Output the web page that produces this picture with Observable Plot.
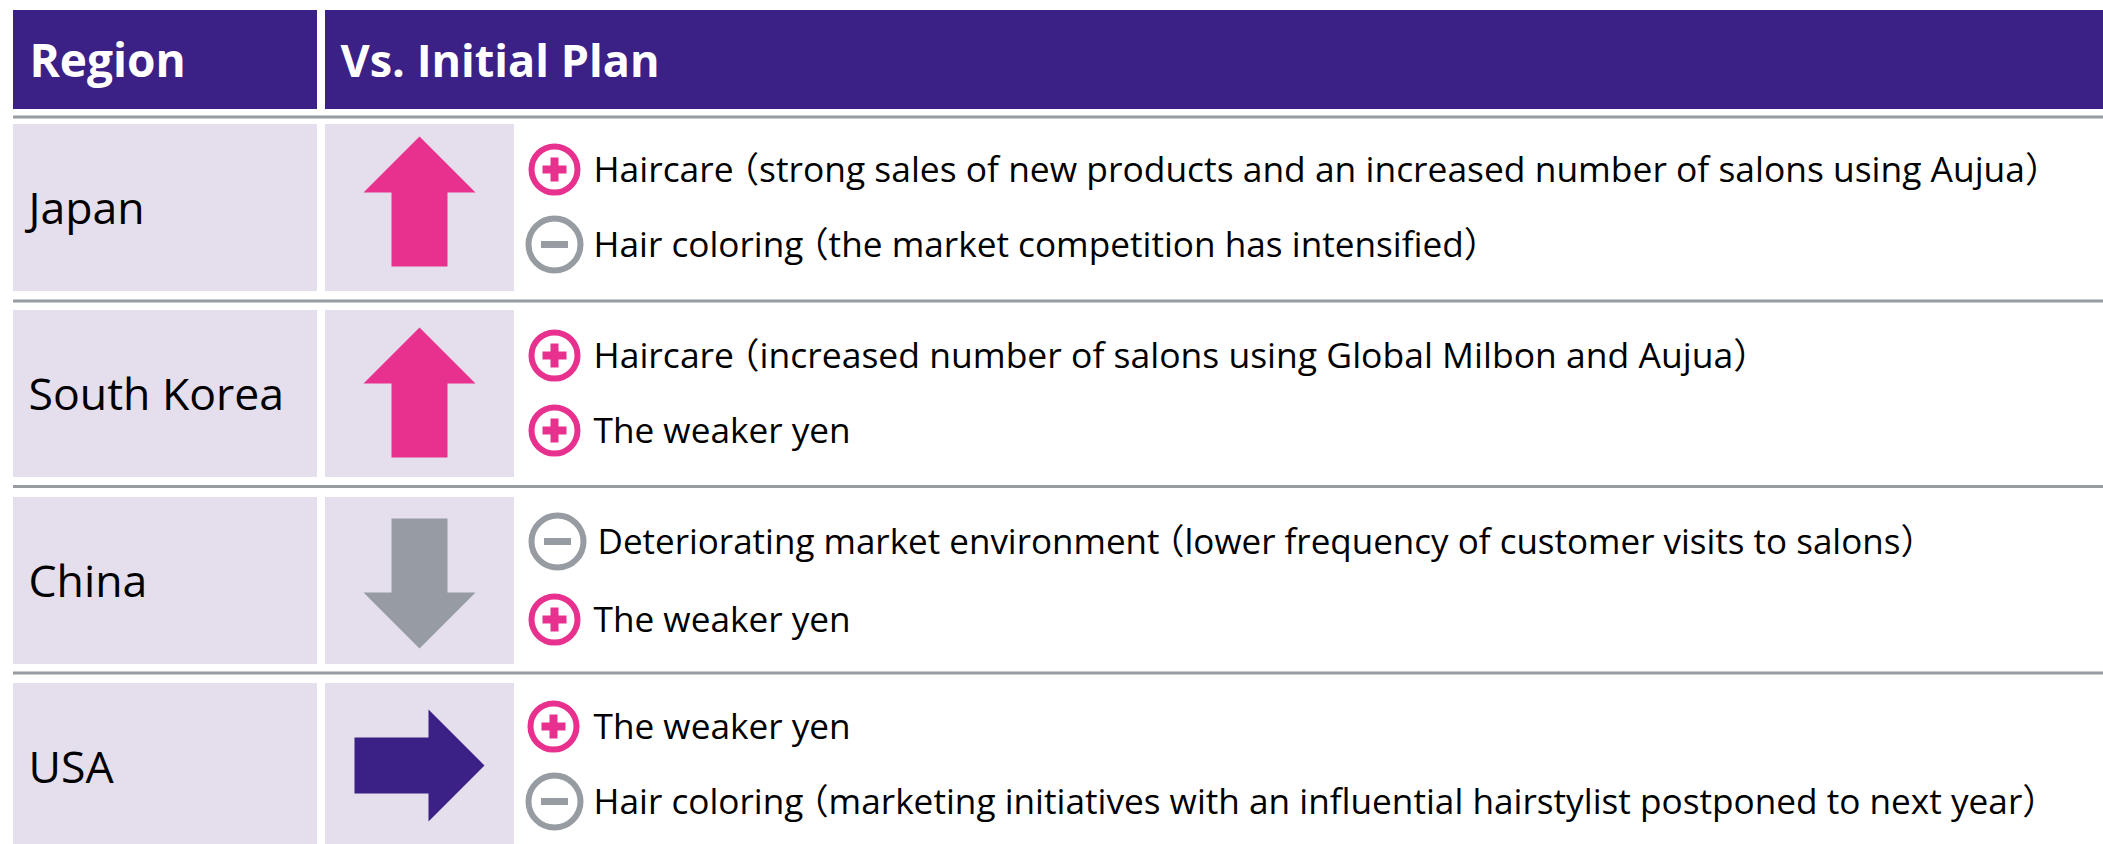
<!DOCTYPE html>
<html><head><meta charset="utf-8">
<script src="https://cdn.jsdelivr.net/npm/d3@7"></script>
<script src="https://cdn.jsdelivr.net/npm/@observablehq/plot@0.6"></script>
<style>html,body{margin:0;padding:0;background:#fff;overflow:hidden}svg{display:block}</style>
</head><body><div id="chart"></div>
<script>
const headers = ["Region", "Vs. Initial Plan"];
const regions = ["Japan", "South Korea", "China", "USA"];
const directions = ["up", "up", "down", "flat"];
const itemSigns = [["+", "-"], ["+", "+"], ["-", "+"], ["+", "-"]];
const itemTexts = [
  ["Haircare（strong sales of new products and an increased number of salons using Aujua）", "Hair coloring（the market competition has intensified）"],
  ["Haircare（increased number of salons using Global Milbon and Aujua）", "The weaker yen"],
  ["Deteriorating market environment（lower frequency of customer visits to salons）", "The weaker yen"],
  ["The weaker yen", "Hair coloring（marketing initiatives with an influential hairstylist postponed to next year）"]
];

// Layout (page pixels)
const W = 2103, H = 844;
const PURPLE = "#3b2086", PINK = "#e8308e", GREY = "#969ca1", CELL = "#e4deed";
const col1 = [13, 317], col2 = [325, 514], col2Head = [325, 2103];
const rowTop = [124, 310, 497, 683], rowH = 167;
const ruleYs = [116.5, 300.5, 486, 672.5];
const arrowMid = [201, 392, 583, 765];
const itemY = [[169, 244], [355, 430], [541, 619], [726, 801]];
const iconX = [[554, 554], [554, 554], [557, 554], [553, 554]];
const textX = [[593, 593], [593, 593], [597, 593], [593, 593]];
const itemFontSize = [[35.4, 35.2], [35.5, 35.2], [35, 35.2], [35.2, 35.2]];
const headFontSize = [46, 45];
const textFont = "'Open Sans','Noto Sans CJK JP',sans-serif";

const rows = regions.map((r, i) => ({region: r, dir: directions[i], top: rowTop[i], mid: rowTop[i] + rowH / 2 + 2, arrow: arrowMid[i]}));
const items = itemTexts.flatMap((t, i) => t.map((s, j) => ({text: s, sign: itemSigns[i][j], y: itemY[i][j], ix: iconX[i][j], tx: textX[i][j], fs: itemFontSize[i][j]})));
const plusItems = items.filter(d => d.sign === "+"), minusItems = items.filter(d => d.sign === "-");
const heads = [
  {t: headers[0], x1: col1[0], x2: col1[1], tx: 29, fs: headFontSize[0]},
  {t: headers[1], x1: col2Head[0], x2: col2Head[1], tx: 340, fs: headFontSize[1]}
];

const blockArrow = {
  draw(ctx, l) {
    const hw = l * 56 / 130, sw = l * 28 / 130, hl = l * 56 / 130;
    ctx.moveTo(0, -l); ctx.lineTo(hw, -l + hl); ctx.lineTo(sw, -l + hl); ctx.lineTo(sw, 0);
    ctx.lineTo(-sw, 0); ctx.lineTo(-sw, -l + hl); ctx.lineTo(-hw, -l + hl); ctx.closePath();
  }
};
const rot = {up: 0, down: 180, flat: 90};
const arrowFill = {up: PINK, down: GREY, flat: PURPLE};
const plusGlyph = {draw(c) {const a = 12, t = 4;
  c.moveTo(-t,-a);c.lineTo(t,-a);c.lineTo(t,-t);c.lineTo(a,-t);c.lineTo(a,t);c.lineTo(t,t);c.lineTo(t,a);c.lineTo(-t,a);c.lineTo(-t,t);c.lineTo(-a,t);c.lineTo(-a,-t);c.lineTo(-t,-t);c.closePath();}};
const minusGlyph = {draw(c) {const a = 13.5, t = 3.5;
  c.moveTo(-a,-t);c.lineTo(a,-t);c.lineTo(a,t);c.lineTo(-a,t);c.closePath();}};

const chart = Plot.plot({
  width: W, height: H,
  marginTop: 0, marginRight: 0, marginBottom: 0, marginLeft: 0,
  x: {type: "linear", domain: [0, W], range: [0, W], axis: null},
  y: {type: "linear", domain: [0, H], range: [0, H], axis: null},
  style: {background: "#fff"},
  marks: [
    Plot.rect(heads, {x1: "x1", x2: "x2", y1: () => 10, y2: () => 109, fill: PURPLE}),
    Plot.text(heads, {x: "tx", y: () => 62, text: "t", textAnchor: "start", lineAnchor: "middle", fill: "#fff", fontWeight: 700, fontSize: d => d.fs, fontFamily: textFont}),
    Plot.ruleY(ruleYs, {x1: col1[0], x2: W, stroke: GREY, strokeWidth: 3}),
    Plot.rect(rows, {x1: () => col1[0], x2: () => col1[1], y1: "top", y2: d => d.top + rowH, fill: CELL}),
    Plot.rect(rows, {x1: () => col2[0], x2: () => col2[1], y1: "top", y2: d => d.top + rowH, fill: CELL}),
    Plot.text(rows, {x: () => 28, y: "mid", text: "region", textAnchor: "start", lineAnchor: "middle", fill: "#000", fontSize: 44.6, fontFamily: textFont}),
    Plot.vector(rows, {x: () => 419, y: "arrow", length: 130, anchor: "middle", rotate: d => rot[d.dir], shape: blockArrow, fill: d => arrowFill[d.dir], stroke: "none"}),
    Plot.dot(plusItems, {x: "ix", y: "y", r: 23, fill: "#fff", stroke: PINK, strokeWidth: 6}),
    Plot.dot(minusItems, {x: "ix", y: "y", r: 26, fill: "#fff", stroke: GREY, strokeWidth: 6}),
    Plot.dot(plusItems, {x: "ix", y: "y", r: 12, symbol: plusGlyph, fill: PINK, stroke: "none"}),
    Plot.dot(minusItems, {x: "ix", y: "y", r: 12, symbol: minusGlyph, fill: GREY, stroke: "none"}),
    Plot.text(items, {x: "tx", y: d => d.y + 1, text: "text", textAnchor: "start", lineAnchor: "middle", fill: "#000", fontSize: d => d.fs, fontFamily: textFont, className: "item"})
  ]
});
document.getElementById("chart").appendChild(chart);
// The opening bracket in the reference sits tight against the word before it.
d3.select(chart).selectAll("g.item text").each(function () {
  const s = this.textContent, k = s.indexOf("（");
  if (k < 0) return;
  this.textContent = s.slice(0, k);
  d3.select(this).append("tspan").attr("dx", -10).text(s.slice(k));
});
</script></body></html>
